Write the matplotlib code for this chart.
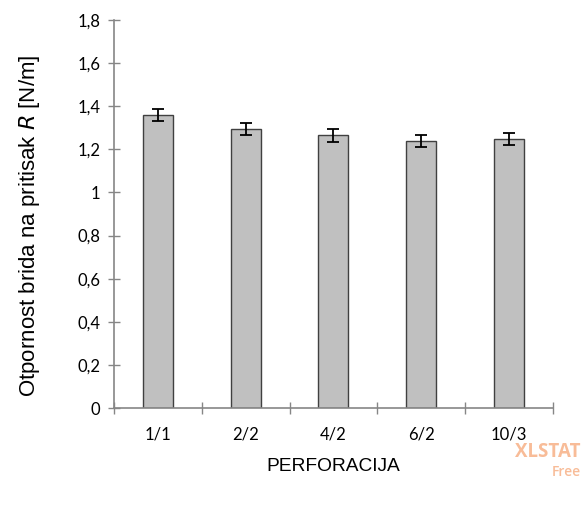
import matplotlib.pyplot as plt
import numpy as np

categories = ["1/1", "2/2", "4/2", "6/2", "10/3"]
values = [1.358, 1.292, 1.265, 1.238, 1.247]
errors = [0.028, 0.028, 0.029, 0.028, 0.029]
y_ticks = [0, 0.2, 0.4, 0.6, 0.8, 1.0, 1.2, 1.4, 1.6, 1.8]
y_labels = ["0", "0,2", "0,4", "0,6", "0,8", "1", "1,2", "1,4", "1,6", "1,8"]

axis_grey = "#868686"

fig = plt.figure(figsize=(5.88, 5.09), dpi=100)
ax = fig.add_axes([0.194, 0.198, 0.746, 0.763])

x = np.arange(len(categories))
ax.bar(x, values, width=0.34, color="#C0C0C0", edgecolor="#404040", linewidth=1.0, zorder=2)
ax.errorbar(x, values, yerr=errors, fmt="none", ecolor="black", elinewidth=1.3,
            capsize=4.5, capthick=1.3, zorder=3)

ax.set_xlim(-0.5, len(categories) - 0.5)
ax.set_ylim(0, 1.8)

for side in ["top", "right"]:
    ax.spines[side].set_visible(False)
for side in ["left", "bottom"]:
    ax.spines[side].set_color(axis_grey)
    ax.spines[side].set_linewidth(1.2)

ax.set_yticks(y_ticks)
ax.set_yticklabels(y_labels, fontfamily="Lato", fontsize=12)
ax.tick_params(axis="y", direction="inout", length=8, color=axis_grey, width=1, pad=6)

ax.set_xticks(x)
ax.set_xticklabels(categories, fontfamily="Lato", fontsize=12)
ax.set_xticks(np.arange(-0.5, len(categories)), minor=True)
ax.tick_params(axis="x", which="major", length=0, pad=13)
ax.tick_params(axis="x", which="minor", direction="inout", length=8, color=axis_grey, width=1)

ax.set_ylabel("Otpornost brida na pritisak $\\it{R}$ [N/m]", fontfamily="Liberation Sans",
              fontsize=16)
ax.yaxis.set_label_coords(-0.165, 0.47)
ax.set_xlabel("PERFORACIJA", fontfamily="Liberation Sans", fontsize=13.8, labelpad=11)

fig.text(0.988, 0.112, "XLSTAT", ha="right", va="center", color="#F8BC98",
         fontsize=13.5, fontweight="bold", fontfamily="Open Sans")
fig.text(0.988, 0.072, "Free", ha="right", va="center", color="#F8BC98",
         fontsize=10, fontweight="semibold", fontfamily="Open Sans")

fig.savefig("out.png", dpi=100)
